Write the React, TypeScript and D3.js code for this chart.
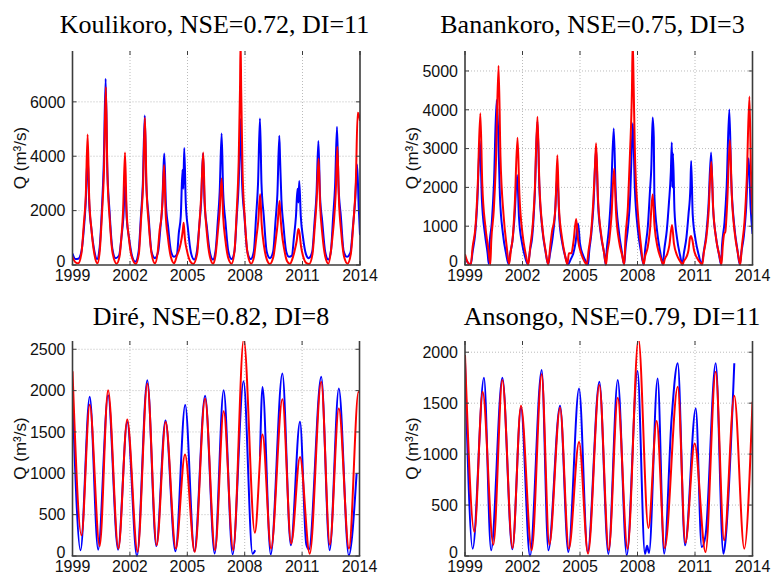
import React from 'react';
import * as d3 from 'd3';

type Pt = [number, number | null];

const xTicks = [1999, 2002, 2005, 2008, 2011, 2014];
const titles = ['Koulikoro, NSE=0.72, DI=11', 'Banankoro, NSE=0.75, DI=3', 'Diré, NSE=0.82, DI=8', 'Ansongo, NSE=0.79, DI=11'];
const yMaxes = [7870, 5515, 2600, 2110];
const koulikoroTicks = [0, 2000, 4000, 6000];
const banankoroTicks = [0, 1000, 2000, 3000, 4000, 5000];
const direTicks = [0, 500, 1000, 1500, 2000, 2500];
const ansongoTicks = [0, 500, 1000, 1500, 2000];
const yLabel = 'Q (m³/s)';

const koulikoroObs: Pt[] = [
  [1999.00, 420], [1999.15, 220], [1999.30, 230],
  [1999.47, 520], [1999.59, 1300], [1999.69, 2300], [1999.79, 4050], [1999.87, 2300], [1999.99, 1300], [2000.14, 520], [2000.28, 220],
  [2000.41, 600], [2000.53, 2000], [2000.63, 3700], [2000.73, 6850], [2000.81, 3700], [2000.93, 2000], [2001.08, 600], [2001.25, 250],
  [2001.43, 350], [2001.55, 1000], [2001.65, 1700], [2001.75, 3000], [2001.83, 1700], [2001.95, 1000], [2002.10, 350], [2002.28, 120],
  [2002.45, 500], [2002.57, 1800], [2002.67, 3000], [2002.77, 5500], [2002.85, 3000], [2002.97, 1800], [2003.12, 500], [2003.30, 250],
  [2003.47, 500], [2003.59, 1400], [2003.69, 2300], [2003.75, 3600], [2003.79, 4100], [2003.87, 2300], [2003.99, 1400], [2004.14, 500], [2004.30, 300],
  [2004.45, 400], [2004.55, 1200], [2004.65, 1800], [2004.74, 3500], [2004.78, 2800], [2004.83, 4300], [2004.91, 2300], [2005.03, 1300], [2005.18, 450], [2005.35, 200],
  [2005.49, 500], [2005.61, 1400], [2005.71, 2300], [2005.81, 4100], [2005.89, 2300], [2006.01, 1400], [2006.16, 500], [2006.33, 200],
  [2006.46, 500], [2006.58, 1600], [2006.68, 2700], [2006.78, 4840], [2006.86, 2700], [2006.98, 1600], [2007.13, 500], [2007.30, 220],
  [2007.45, 500], [2007.57, 1800], [2007.67, 3000], [2007.73, 4400], [2007.77, 5365], [2007.85, 3000], [2007.97, 1800], [2008.12, 500], [2008.30, 220],
  [2008.46, 500], [2008.58, 1800], [2008.68, 3000], [2008.78, 5390], [2008.86, 3000], [2008.98, 1800], [2009.13, 500], [2009.30, 250],
  [2009.47, 500], [2009.59, 1600], [2009.69, 2600], [2009.79, 4750], [2009.83, 3900], [2009.90, 2400], [2010.00, 1500], [2010.15, 500], [2010.30, 300],
  [2010.45, 350], [2010.55, 1000], [2010.66, 1800], [2010.74, 2800], [2010.79, 2300], [2010.83, 3090], [2010.91, 1800], [2011.03, 1000], [2011.18, 400], [2011.32, 250],
  [2011.51, 500], [2011.63, 1600], [2011.73, 2600], [2011.83, 4560], [2011.91, 2600], [2012.03, 1600], [2012.18, 500], [2012.35, 200],
  [2012.48, 500], [2012.60, 1800], [2012.70, 2900], [2012.80, 5080], [2012.88, 2900], [2013.00, 1800], [2013.15, 500], [2013.32, 300],
  [2013.50, 450], [2013.63, 1400], [2013.75, 2400], [2013.85, 3700], [2013.93, 2200], [2014.00, 1100],
];

const koulikoroSim: Pt[] = [
  [1999.00, 300], [1999.15, 100], [1999.30, 60],
  [1999.47, 450], [1999.59, 1500], [1999.69, 2500], [1999.79, 4800], [1999.87, 2500], [1999.99, 1300], [2000.14, 400], [2000.30, 60],
  [2000.42, 500], [2000.54, 1900], [2000.64, 3400], [2000.74, 6550], [2000.82, 3400], [2000.94, 1700], [2001.09, 450], [2001.30, 50],
  [2001.45, 300], [2001.55, 1000], [2001.64, 2000], [2001.74, 4140], [2001.82, 2000], [2001.94, 1000], [2002.09, 300], [2002.30, 40],
  [2002.46, 400], [2002.58, 1700], [2002.68, 2900], [2002.78, 5415], [2002.86, 2900], [2002.98, 1500], [2003.13, 400], [2003.30, 60],
  [2003.45, 500], [2003.55, 1300], [2003.63, 1700], [2003.70, 2400], [2003.78, 3675], [2003.86, 1900], [2003.98, 1000], [2004.13, 300], [2004.30, 60],
  [2004.45, 350], [2004.58, 600], [2004.70, 1000], [2004.76, 1300], [2004.80, 1555], [2004.86, 1000], [2004.98, 500], [2005.13, 150], [2005.30, 40],
  [2005.50, 400], [2005.62, 1500], [2005.72, 2600], [2005.82, 4140], [2005.90, 2300], [2006.02, 1100], [2006.17, 300], [2006.33, 50],
  [2006.46, 350], [2006.58, 1200], [2006.68, 2000], [2006.78, 3185], [2006.86, 1800], [2006.98, 900], [2007.13, 250], [2007.30, 50],
  [2007.45, 500], [2007.57, 2000], [2007.67, 3800], [2007.74, 6500], [2007.77, 8300], [2007.80, 6500], [2007.87, 3500], [2007.99, 1700], [2008.14, 400], [2008.32, 50],
  [2008.47, 300], [2008.59, 1000], [2008.69, 1600], [2008.79, 2600], [2008.87, 1500], [2008.99, 700], [2009.14, 200], [2009.30, 40],
  [2009.48, 300], [2009.60, 900], [2009.70, 1500], [2009.80, 2350], [2009.84, 1900], [2009.92, 1200], [2010.04, 600], [2010.19, 150], [2010.35, 40],
  [2010.46, 200], [2010.58, 500], [2010.70, 900], [2010.78, 1320], [2010.84, 1200], [2010.92, 700], [2011.04, 300], [2011.19, 80], [2011.35, 40],
  [2011.52, 400], [2011.64, 1400], [2011.74, 2400], [2011.84, 3920], [2011.92, 2200], [2012.04, 1100], [2012.19, 300], [2012.35, 50],
  [2012.50, 600], [2012.56, 1000], [2012.64, 1600], [2012.73, 2600], [2012.82, 4350], [2012.90, 2400], [2013.02, 1200], [2013.17, 300], [2013.35, 50],
  [2013.52, 400], [2013.66, 1600], [2013.78, 3000], [2013.88, 5600], [2013.95, 5500], [2014.00, 5300],
];

const banankoroObs: Pt[] = [
  [1999.00, 200], [1999.15, 60], [1999.30, 20],
  [1999.40, 350], [1999.53, 800], [1999.64, 1600], [1999.78, 3200], [1999.88, 1700], [2000.04, 800], [2000.18, 300], [2000.24, 30],
  [2000.27, 450], [2000.40, 1100], [2000.51, 2100], [2000.65, 4250], [2000.72, 3600], [2000.82, 1800], [2000.98, 800], [2001.14, 300], [2001.28, 20],
  [2001.34, 250], [2001.47, 600], [2001.58, 1200], [2001.72, 2320], [2001.82, 1200], [2001.98, 550], [2002.14, 200], [2002.28, 20],
  [2002.40, 400], [2002.50, 690], [2002.64, 1800], [2002.78, 3700], [2002.88, 2000], [2003.04, 900], [2003.20, 350], [2003.34, 20],
  [2003.44, 300], [2003.57, 700], [2003.68, 1200], [2003.82, 2300], [2003.92, 1200], [2004.08, 550], [2004.24, 200], [2004.38, 20],
  [2004.52, 150], [2004.65, 300], [2004.76, 550], [2004.90, 1070], [2005.00, 550], [2005.16, 250], [2005.32, 80], [2005.42, 10],
  [2005.48, 350], [2005.59, 800], [2005.70, 1500], [2005.84, 3000], [2005.94, 1600], [2006.10, 750], [2006.26, 300], [2006.34, 10],
  [2006.40, 420], [2006.51, 950], [2006.62, 1800], [2006.76, 3520], [2006.86, 1900], [2007.02, 900], [2007.18, 350], [2007.30, 10],
  [2007.38, 450], [2007.51, 1000], [2007.62, 1800], [2007.70, 3000], [2007.76, 3650], [2007.86, 2000], [2008.02, 900], [2008.18, 350], [2008.32, 10],
  [2008.41, 450], [2008.54, 1000], [2008.65, 1900], [2008.72, 2500], [2008.79, 3800], [2008.85, 3300], [2008.88, 1800], [2009.04, 800], [2009.20, 300], [2009.32, 10],
  [2009.40, 400], [2009.53, 900], [2009.64, 1600], [2009.74, 2400], [2009.79, 3160], [2009.82, 2000], [2009.85, 2880], [2009.93, 1400], [2010.06, 700], [2010.22, 250], [2010.34, 10],
  [2010.42, 300], [2010.55, 700], [2010.66, 1300], [2010.76, 2000], [2010.80, 2680], [2010.88, 1300], [2011.03, 650], [2011.20, 250], [2011.34, 10],
  [2011.46, 350], [2011.59, 800], [2011.70, 1500], [2011.84, 2900], [2011.94, 1500], [2012.10, 700], [2012.26, 250], [2012.36, 10],
  [2012.41, 500], [2012.54, 1100], [2012.65, 2000], [2012.79, 4010], [2012.89, 2200], [2013.05, 1000], [2013.21, 400], [2013.34, 10],
  [2013.42, 330], [2013.55, 750], [2013.66, 1400], [2013.80, 2750], [2013.90, 1500], [2014.00, 800],
];

const banankoroSim: Pt[] = [
  [1999.00, 275], [1999.15, 60], [1999.30, 10],
  [1999.40, 470], [1999.55, 1000], [1999.66, 2000], [1999.80, 3910], [1999.90, 2100], [2000.06, 1000], [2000.22, 400], [2000.32, 10],
  [2000.37, 620], [2000.50, 1400], [2000.61, 2600], [2000.75, 5137], [2000.85, 2800], [2001.01, 1300], [2001.17, 500], [2001.30, 30],
  [2001.40, 400], [2001.49, 700], [2001.60, 1600], [2001.74, 3280], [2001.84, 1800], [2002.00, 800], [2002.16, 300], [2002.30, 10],
  [2002.40, 450], [2002.53, 1000], [2002.64, 1900], [2002.78, 3820], [2002.88, 2100], [2003.04, 950], [2003.20, 380], [2003.34, 10],
  [2003.45, 500], [2003.55, 900], [2003.64, 1100], [2003.72, 1500], [2003.82, 2830], [2003.90, 1500], [2004.06, 700], [2004.22, 250], [2004.34, 20],
  [2004.42, 300], [2004.55, 300], [2004.66, 600], [2004.80, 1185], [2004.90, 650], [2005.06, 300], [2005.22, 100], [2005.35, 10],
  [2005.45, 380], [2005.58, 850], [2005.70, 1700], [2005.77, 2400], [2005.84, 3135], [2005.94, 1700], [2006.10, 800], [2006.26, 300], [2006.36, 10],
  [2006.42, 300], [2006.53, 650], [2006.64, 1250], [2006.78, 2490], [2006.88, 1350], [2007.04, 600], [2007.20, 250], [2007.31, 10],
  [2007.37, 680], [2007.50, 1500], [2007.61, 2900], [2007.71, 4500], [2007.75, 5800], [2007.80, 4600], [2007.86, 3000], [2008.01, 1400], [2008.17, 550], [2008.32, 10],
  [2008.40, 230], [2008.53, 450], [2008.65, 900], [2008.79, 1820], [2008.89, 1000], [2009.05, 450], [2009.21, 180], [2009.35, 10],
  [2009.42, 150], [2009.55, 280], [2009.66, 500], [2009.80, 1030], [2009.90, 560], [2010.06, 250], [2010.22, 100], [2010.35, 10],
  [2010.42, 100], [2010.55, 200], [2010.66, 380], [2010.74, 700], [2010.79, 750], [2010.86, 650], [2010.95, 380], [2011.11, 180], [2011.27, 60], [2011.38, 10],
  [2011.46, 320], [2011.59, 700], [2011.70, 1300], [2011.85, 2660], [2011.95, 1450], [2012.11, 650], [2012.27, 250], [2012.38, 10],
  [2012.45, 500], [2012.52, 800], [2012.58, 850], [2012.68, 1600], [2012.82, 3220], [2012.92, 1800], [2013.08, 800], [2013.24, 300], [2013.36, 10],
  [2013.45, 500], [2013.58, 1100], [2013.70, 2200], [2013.84, 4340], [2013.92, 2400], [2014.00, 1300],
];

const direObs: Pt[] = [
  [1999.00, 1950], [1999.42, 70], [1999.90, 1925], [2000.34, 77], [2000.86, 1945], [2001.38, 77], [2001.86, 1620],
  [2002.37, 0], [2002.91, 2126], [2003.38, 120], [2003.86, 1640], [2004.38, 56], [2004.89, 1825], [2005.37, 56],
  [2005.93, 1937], [2006.43, 30], [2006.90, 2005], [2007.37, 20], [2007.94, 2114], [2008.41, 28], [2008.55, 70],
  [2008.65, null], [2008.80, 1200], [2008.93, 2045], [2009.36, 20], [2009.97, 2207], [2010.41, 130], [2010.89, 1622],
  [2011.22, 140], [2011.36, 80], [2012.00, 2167], [2012.44, 70], [2012.92, 2025], [2013.44, 8], [2013.85, 1000],
];

const direSim: Pt[] = [
  [1999.00, 2235], [1999.47, 250], [1999.90, 1830], [2000.42, 120], [2000.86, 2005], [2001.40, 90], [2001.86, 1650],
  [2002.40, 50], [2002.91, 2086], [2003.40, 130], [2003.87, 1620], [2004.40, 90], [2004.88, 1227], [2005.39, 50],
  [2005.93, 1905], [2006.45, 70], [2006.90, 1750], [2007.40, 70], [2007.95, 2620], [2008.53, 282], [2008.93, 1470],
  [2009.38, 90], [2009.97, 1897], [2010.43, 150], [2010.89, 1198], [2011.40, 28], [2012.00, 2106], [2012.45, 137],
  [2012.92, 1783], [2013.45, 90], [2013.95, 1985], [2014.00, 1975],
];

const ansongoObs: Pt[] = [
  [1999.00, 1907], [1999.40, 72], [1999.99, 1750], [2000.36, 56], [2000.95, 1750], [2001.47, 66], [2001.92, 1455],
  [2002.39, 0], [2003.00, 1825], [2003.35, 56], [2003.96, 1475], [2004.39, 39], [2004.95, 1645], [2005.40, 39],
  [2006.01, 1710], [2006.48, 20], [2006.97, 1727], [2007.44, 7], [2008.00, 1815], [2008.39, 20], [2008.50, 100],
  [2008.60, 30], [2009.05, 1743], [2009.39, 23], [2009.78, 1350], [2010.10, 1891], [2010.48, 105], [2011.04, 1448],
  [2011.35, 88], [2011.55, 200], [2012.08, 1891], [2012.48, 23], [2012.56, 100], [2013.05, 1891],
];

const ansongoSim: Pt[] = [
  [1999.00, 1973], [1999.49, 236], [1999.92, 1612], [2000.48, 111], [2000.95, 1727], [2001.48, 79], [2001.92, 1475],
  [2002.48, 56], [2003.00, 1783], [2003.40, 111], [2003.96, 1455], [2004.42, 72], [2004.95, 1120], [2005.42, 23],
  [2006.01, 1678], [2006.50, 60], [2006.97, 1553], [2007.48, 72], [2008.05, 2130], [2008.57, 275], [2009.00, 1324],
  [2009.42, 79], [2010.10, 1661], [2010.50, 131], [2010.98, 1104], [2011.55, 39], [2012.08, 1809], [2012.52, 154],
  [2013.05, 1573], [2013.57, 72], [2014.00, 1514],
];

const series = [
  { obs: koulikoroObs, sim: koulikoroSim, ticks: koulikoroTicks },
  { obs: banankoroObs, sim: banankoroSim, ticks: banankoroTicks },
  { obs: direObs, sim: direSim, ticks: direTicks },
  { obs: ansongoObs, sim: ansongoSim, ticks: ansongoTicks },
];

const frames = [
  { x0: 72.5, x1: 360, y0: 51, y1: 265, tx: 214.5, ty: 33, lx: 20 },
  { x0: 465, x1: 752.5, y0: 51, y1: 265, tx: 592.5, ty: 33, lx: 412 },
  { x0: 72.5, x1: 359.5, y0: 341, y1: 556, tx: 211, ty: 325, lx: 20 },
  { x0: 465, x1: 752.5, y0: 341, y1: 556, tx: 612, ty: 325, lx: 412 },
];

const sans = "'Liberation Sans', Arial, Helvetica, sans-serif";
const serif = "'Liberation Serif', 'Times New Roman', serif";
const axisColor = '#3c3c3c';

function Panel({ i }: { i: number }) {
  const f = frames[i];
  const s = series[i];
  const x = d3.scaleLinear().domain([1999, 2014]).range([f.x0, f.x1]);
  const y = d3.scaleLinear().domain([0, yMaxes[i]]).range([f.y1, f.y0]);
  const line = d3
    .line<Pt>()
    .defined((d) => d[1] != null)
    .x((d) => x(d[0]))
    .y((d) => y(d[1] as number))
    .curve(d3.curveMonotoneX);
  const clipId = `clip${i}`;
  const tl = 4;
  return (
    <g>
      <defs>
        <clipPath id={clipId}>
          <rect x={f.x0} y={f.y0} width={f.x1 - f.x0} height={f.y1 - f.y0 + 1} />
        </clipPath>
      </defs>
      {xTicks.slice(1, -1).map((t) => (
        <line key={'gx' + t} x1={x(t)} x2={x(t)} y1={f.y0} y2={f.y1} stroke="#aaa" strokeWidth={0.8} strokeDasharray="1,2" />
      ))}
      {s.ticks.filter((v) => v > 0).map((v) => (
        <line key={'gy' + v} x1={f.x0} x2={f.x1} y1={y(v)} y2={y(v)} stroke="#aaa" strokeWidth={0.8} strokeDasharray="1,2" />
      ))}
      <g clipPath={`url(#${clipId})`}>
        <path d={line(s.obs) || ''} fill="none" stroke="#0000ff" strokeWidth={2} strokeLinejoin="round" />
        <path d={line(s.sim) || ''} fill="none" stroke="#ff0000" strokeWidth={2} strokeLinejoin="round" />
      </g>
      <line x1={f.x0} x2={f.x0} y1={f.y0} y2={f.y1} stroke={axisColor} strokeWidth={1.6} />
      <line x1={f.x1} x2={f.x1} y1={f.y0} y2={f.y1} stroke={axisColor} strokeWidth={1.6} />
      <line x1={f.x0 - 0.8} x2={f.x1 + 0.8} y1={f.y1} y2={f.y1} stroke={axisColor} strokeWidth={1.6} />
      {xTicks.map((t) => (
        <g key={'tx' + t}>
          <line x1={x(t)} x2={x(t)} y1={f.y1} y2={f.y1 - tl} stroke={axisColor} strokeWidth={1} />
          <line x1={x(t)} x2={x(t)} y1={f.y0} y2={f.y0 + tl} stroke={axisColor} strokeWidth={1} />
          <text x={x(t)} y={f.y1 + 16} textAnchor="middle" fontFamily={sans} fontSize={16} fill="#111">
            {t}
          </text>
        </g>
      ))}
      {s.ticks.map((v) => (
        <g key={'ty' + v}>
          <line x1={f.x0} x2={f.x0 + tl} y1={y(v)} y2={y(v)} stroke={axisColor} strokeWidth={1} />
          <line x1={f.x1} x2={f.x1 - tl} y1={y(v)} y2={y(v)} stroke={axisColor} strokeWidth={1} />
          <text x={f.x0 - 7} y={y(v)} dy={v === 0 ? '0.1em' : '0.36em'} textAnchor="end" fontFamily={sans} fontSize={16} fill="#111">
            {v}
          </text>
        </g>
      ))}
      <text
        transform={`translate(${f.lx},${(f.y0 + f.y1) / 2}) rotate(-90)`}
        textAnchor="middle"
        dy="0.35em"
        fontFamily={sans}
        fontSize={17}
        fill="#111"
      >
        {yLabel}
      </text>
      <text x={f.tx} y={f.ty} textAnchor="middle" fontFamily={serif} fontSize={26} fill="#000">
        {titles[i]}
      </text>
    </g>
  );
}

export default function App() {
  return (
    <svg
      width={773}
      height={576}
      viewBox="0 0 773 576"
      style={{ position: 'absolute', left: 0, top: 0, background: '#fff' }}
    >
      <rect width={773} height={576} fill="#fff" />
      {[0, 1, 2, 3].map((i) => (
        <Panel key={i} i={i} />
      ))}
    </svg>
  );
}
